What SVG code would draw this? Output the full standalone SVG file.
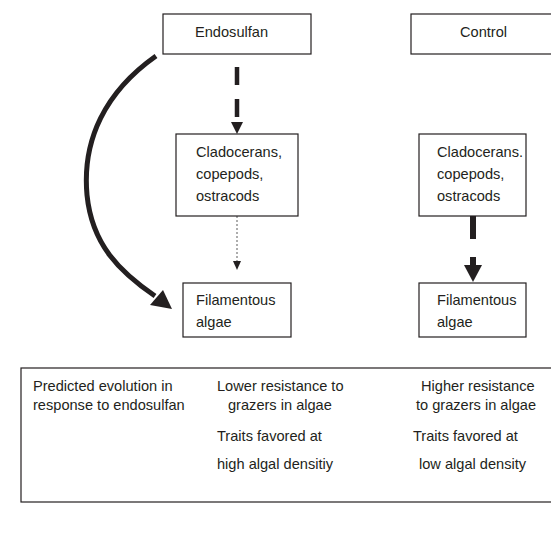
<svg xmlns="http://www.w3.org/2000/svg" width="551" height="535" viewBox="0 0 551 535">
<style>
.box{fill:#fff;stroke:#231f20;stroke-width:1.2}
text{font-family:"Liberation Sans",Arial,sans-serif;font-size:14.6px;fill:#231f20}
.heavy{fill:none;stroke:#231f20;stroke-width:5}
</style>
<rect width="551" height="535" fill="#fff"/>
<g id="connectors">
  <path class="heavy" d="M156,56 C105,92 82,140 87,195 C92,245 120,272 155,296"/>
  <polygon points="172,309 150,305 163,290" fill="#231f20"/>
  <line x1="237" y1="67" x2="237" y2="122" stroke="#231f20" stroke-width="4.5" stroke-dasharray="18,14"/>
  <polygon points="231,122 243,122 237,134" fill="#231f20"/>
  <line x1="237" y1="216" x2="237" y2="262" stroke="#777" stroke-width="1.2" stroke-dasharray="2,2"/>
  <polygon points="233,261 241,261 237,270" fill="#231f20"/>
  <line x1="473" y1="216" x2="473" y2="239" stroke="#231f20" stroke-width="6"/>
  <line x1="473" y1="257" x2="473" y2="266" stroke="#231f20" stroke-width="6"/>
  <polygon points="464,265 482,265 473,282" fill="#231f20"/>
</g>
<g id="endosulfan">
  <rect class="box" x="163" y="14" width="148" height="40"/>
  <text x="195" y="37">Endosulfan</text>
</g>
<g id="control">
  <rect class="box" x="411" y="14" width="150" height="40"/>
  <text x="460" y="37">Control</text>
</g>
<g id="grazers-endo">
  <rect class="box" x="176" y="134" width="122" height="82"/>
  <text x="196" y="157">Cladocerans,</text>
  <text x="196" y="179">copepods,</text>
  <text x="196" y="201">ostracods</text>
</g>
<g id="grazers-control">
  <rect class="box" x="419" y="134" width="107" height="82"/>
  <text x="437" y="157">Cladocerans.</text>
  <text x="437" y="179">copepods,</text>
  <text x="437" y="201">ostracods</text>
</g>
<g id="algae-endo">
  <rect class="box" x="183" y="283" width="108" height="54"/>
  <text x="196" y="305">Filamentous</text>
  <text x="196" y="327">algae</text>
</g>
<g id="algae-control">
  <rect class="box" x="419" y="283" width="107" height="54"/>
  <text x="437" y="305">Filamentous</text>
  <text x="437" y="327">algae</text>
</g>
<g id="prediction">
  <rect class="box" x="21" y="368" width="545" height="134"/>
  <text x="33" y="391">Predicted evolution in</text>
  <text x="33" y="410">response to endosulfan</text>
  <text x="217" y="391">Lower resistance to</text>
  <text x="228" y="410">grazers in algae</text>
  <text x="217" y="441">Traits favored at</text>
  <text x="217" y="469">high algal densitiy</text>
  <text x="421" y="391">Higher resistance</text>
  <text x="416" y="410">to grazers in algae</text>
  <text x="413" y="441">Traits favored at</text>
  <text x="419" y="469">low algal density</text>
</g>
</svg>
